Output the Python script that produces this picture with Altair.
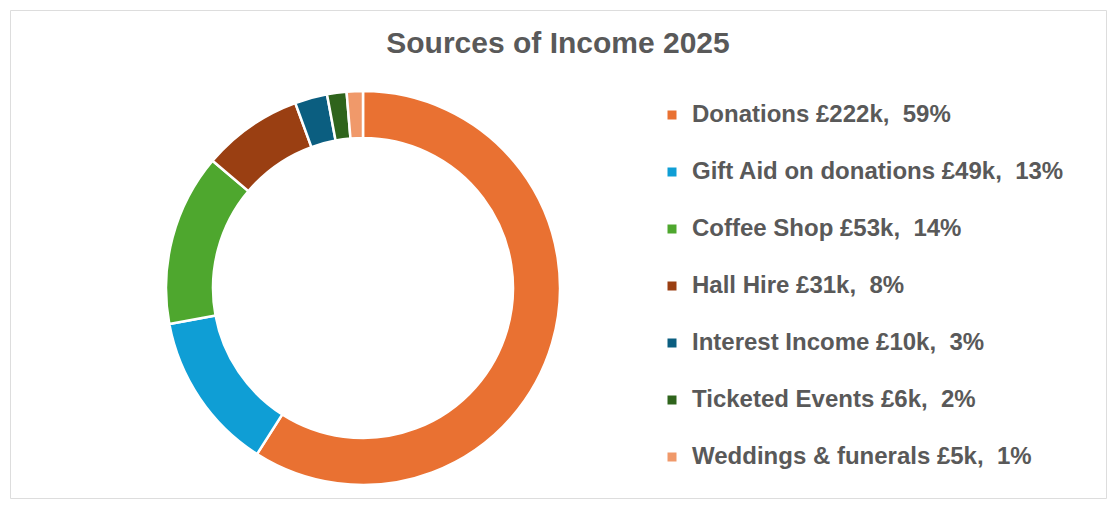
import altair as alt
import pandas as pd

categories = [
    "Donations £222k,\u00a0 59%",
    "Gift Aid on donations £49k,\u00a0 13%",
    "Coffee Shop £53k,\u00a0 14%",
    "Hall Hire £31k,\u00a0 8%",
    "Interest Income £10k,\u00a0 3%",
    "Ticketed Events £6k,\u00a0 2%",
    "Weddings & funerals £5k,\u00a0 1%",
]
values = [222, 49, 53, 31, 10, 6, 5]
colors = ["#E97132", "#0F9ED5", "#4EA72E", "#9A3F12", "#0B5E80", "#2F641C", "#F0996A"]

df = pd.DataFrame({"category": categories, "value": values, "order": list(range(len(categories)))})

chart = (
    alt.Chart(df)
    .mark_arc(innerRadius=150, outerRadius=197, stroke="white", strokeWidth=2.5)
    .encode(
        theta=alt.Theta("value:Q", stack=True),
        order=alt.Order("order:Q"),
        color=alt.Color(
            "category:N",
            sort=categories,
            scale=alt.Scale(domain=categories, range=colors),
            legend=alt.Legend(
                title=None,
                orient="none",
                legendX=650,
                legendY=93,
                symbolType="square",
                symbolSize=81,
                symbolStrokeWidth=0,
                labelFont="Liberation Sans",
                labelFontSize=24,
                labelFontWeight="bold",
                labelColor="#595959",
                labelOffset=8,
                labelLimit=600,
                rowPadding=33,
            ),
        ),
        x=alt.value(353),
        y=alt.value(278),
    )
    .properties(
        width=1096,
        height=488,
        padding=2,
        autosize=alt.AutoSizeParams(type="none"),
        title=alt.TitleParams(
            "Sources of Income 2025",
            font="Liberation Sans",
            fontSize=30,
            fontWeight="bold",
            color="#595959",
            anchor="middle",
            baseline="alphabetic",
            offset=-73,
        ),
    )
    .configure_view(stroke="#D9D9D9", strokeWidth=2, fill="white")
    .configure(background="white")
)

chart.save("out.html", embed_options={"renderer": "svg", "actions": False})
